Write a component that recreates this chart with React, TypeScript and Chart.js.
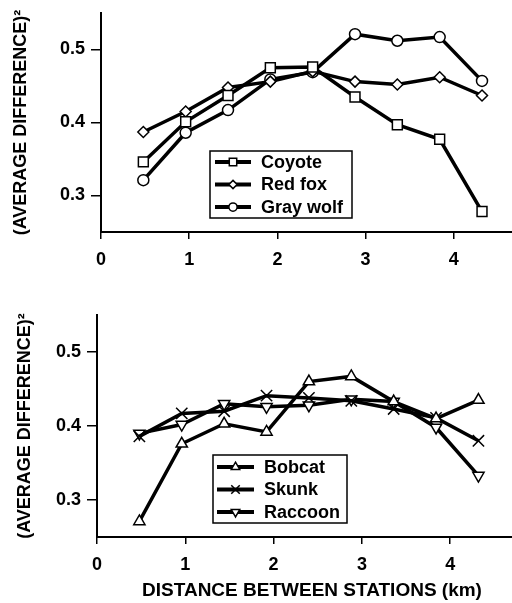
import React, { useEffect, useRef } from 'react';
import { Chart, registerables } from 'chart.js';

Chart.register(...registerables);

// ---- data ----
const distances = [0.48, 0.96, 1.44, 1.92, 2.4, 2.88, 3.36, 3.84, 4.32];
const coyote = [0.346, 0.401, 0.437, 0.475, 0.476, 0.435, 0.397, 0.377, 0.278];
const redFox = [0.387, 0.415, 0.448, 0.456, 0.47, 0.456, 0.452, 0.462, 0.437];
const grayWolf = [0.321, 0.386, 0.417, 0.459, 0.469, 0.521, 0.512, 0.517, 0.457];
const bobcat = [0.271, 0.376, 0.403, 0.392, 0.46, 0.467, 0.433, 0.41, 0.435];
const skunk = [0.386, 0.417, 0.42, 0.441, 0.438, 0.434, 0.423, 0.411, 0.38];
const raccoon = [0.39, 0.402, 0.43, 0.426, 0.428, 0.436, 0.433, 0.398, 0.333];
const xTicks = [0, 1, 2, 3, 4];
const yTicks = [0.3, 0.4, 0.5];
const yTitle = '(AVERAGE DIFFERENCE)²';
const xTitle = 'DISTANCE BETWEEN STATIONS (km)';

const FONT = '"Liberation Sans", Arial, sans-serif';

type Marker = { style: string; radius: number; rotation: number };

function drawMarker(ctx: CanvasRenderingContext2D, style: string, x: number, y: number, r: number, rot: number) {
  ctx.save();
  ctx.translate(x, y);
  ctx.rotate((rot * Math.PI) / 180);
  ctx.beginPath();
  let fill = true;
  switch (style) {
    case 'rect': {
      const s = r * Math.SQRT1_2;
      ctx.rect(-s, -s, 2 * s, 2 * s);
      break;
    }
    case 'rectRot':
      ctx.moveTo(0, -r);
      ctx.lineTo(r, 0);
      ctx.lineTo(0, r);
      ctx.lineTo(-r, 0);
      ctx.closePath();
      break;
    case 'circle':
      ctx.arc(0, 0, r, 0, Math.PI * 2);
      break;
    case 'triangle': {
      let a = 0;
      ctx.moveTo(Math.sin(a) * r, -Math.cos(a) * r);
      a += (2 * Math.PI) / 3;
      ctx.lineTo(Math.sin(a) * r, -Math.cos(a) * r);
      a += (2 * Math.PI) / 3;
      ctx.lineTo(Math.sin(a) * r, -Math.cos(a) * r);
      ctx.closePath();
      break;
    }
    case 'crossRot': {
      fill = false;
      const s = r * Math.SQRT1_2;
      ctx.moveTo(-s, -s);
      ctx.lineTo(s, s);
      ctx.moveTo(-s, s);
      ctx.lineTo(s, -s);
      break;
    }
  }
  if (fill) {
    ctx.fillStyle = '#fff';
    ctx.fill();
  }
  ctx.strokeStyle = '#000';
  ctx.lineWidth = 1.5;
  ctx.stroke();
  ctx.restore();
}

function makeLegendPlugin(
  markers: Marker[],
  box: { dx: number; dy: number; w: number; h: number; row0: number; rowGap: number; lineX0: number; lineX1: number; textX: number }
) {
  return {
    id: 'boxLegend',
    afterDatasetsDraw(chart: any) {
      const { ctx, chartArea } = chart;
      const x0 = chartArea.left + box.dx;
      const y0 = chartArea.top + box.dy;
      ctx.save();
      ctx.fillStyle = '#fff';
      ctx.fillRect(x0, y0, box.w, box.h);
      ctx.strokeStyle = '#000';
      ctx.lineWidth = 1.5;
      ctx.strokeRect(x0, y0, box.w, box.h);
      chart.data.datasets.forEach((ds: any, i: number) => {
        const cy = y0 + box.row0 + i * box.rowGap;
        ctx.strokeStyle = '#000';
        ctx.lineWidth = 4;
        ctx.beginPath();
        ctx.moveTo(x0 + box.lineX0, cy);
        ctx.lineTo(x0 + box.lineX1, cy);
        ctx.stroke();
        const m = markers[i];
        drawMarker(ctx, m.style, x0 + (box.lineX0 + box.lineX1) / 2, cy, m.radius * 0.75, m.rotation);
        ctx.fillStyle = '#000';
        ctx.font = `bold 18px ${FONT}`;
        ctx.textBaseline = 'middle';
        ctx.textAlign = 'left';
        ctx.fillText(ds.label, x0 + box.textX, cy + 1);
      });
      ctx.restore();
    },
  };
}

function dataset(label: string, values: number[], m: Marker) {
  return {
    label,
    data: distances.map((x, i) => ({ x, y: values[i] })),
    borderColor: '#000',
    borderWidth: 3.5,
    pointStyle: m.style,
    pointRadius: m.radius,
    pointRotation: m.rotation,
    pointBackgroundColor: '#fff',
    pointBorderColor: '#000',
    pointBorderWidth: 1.5,
    tension: 0,
    fill: false,
  };
}

function buildConfig(opts: {
  series: { label: string; values: number[]; marker: Marker }[];
  xMax: number;
  padTop: number;
  yWidth: number;
  xHeight: number;
  yTitlePad: number;
  showXTitle: boolean;
  legend: any;
}) {
  const tickFont = { family: FONT, size: 18, weight: 'bold' as const };
  return {
    type: 'line' as const,
    data: {
      datasets: opts.series.map((s) => dataset(s.label, s.values, s.marker)),
    },
    options: {
      responsive: false,
      animation: false as const,
      layout: { autoPadding: false, padding: { top: opts.padTop, left: 0, right: 0, bottom: 0 } },
      plugins: { legend: { display: false }, tooltip: { enabled: false } },
      scales: {
        x: {
          type: 'linear' as const,
          min: 0,
          max: opts.xMax,
          afterBuildTicks: (axis: any) => {
            axis.ticks = xTicks.map((v) => ({ value: v }));
          },
          afterFit: (s: any) => {
            s.height = opts.xHeight;
            s.paddingLeft = 0;
            s.paddingRight = 0;
            s.paddingTop = 0;
            s.paddingBottom = 0;
          },
          grid: { display: true, drawOnChartArea: false, drawTicks: true, tickLength: 7, color: '#000', lineWidth: 1.5 },
          border: { display: true, color: '#000', width: 2 },
          ticks: {
            color: '#000',
            font: tickFont,
            padding: 10,
            maxRotation: 0,
            autoSkip: false,
            callback: (v: any) => String(v),
          },
          title: {
            display: opts.showXTitle,
            text: xTitle,
            color: '#000',
            font: { family: FONT, size: 19, weight: 'bold' as const },
            padding: { top: 0, bottom: 1 },
          },
        },
        y: {
          type: 'linear' as const,
          min: 0.25,
          max: 0.55,
          afterBuildTicks: (axis: any) => {
            axis.ticks = yTicks.map((v) => ({ value: v }));
          },
          afterFit: (s: any) => {
            s.width = opts.yWidth;
            s.paddingLeft = 0;
            s.paddingRight = 0;
            s.paddingTop = 0;
            s.paddingBottom = 0;
          },
          grid: { display: true, drawOnChartArea: false, drawTicks: true, tickLength: 10, color: '#000', lineWidth: 1.5 },
          border: { display: true, color: '#000', width: 2 },
          ticks: {
            color: '#000',
            font: tickFont,
            padding: 6,
            callback: (v: any) => Number(v).toFixed(1),
          },
          title: {
            display: true,
            text: yTitle,
            color: '#000',
            font: { family: FONT, size: 18, weight: 'bold' as const },
            padding: { top: opts.yTitlePad, bottom: 0 },
          },
        },
      },
    },
    plugins: [opts.legend],
  };
}

const squareM: Marker = { style: 'rect', radius: 7, rotation: 0 };
const diamondM: Marker = { style: 'rectRot', radius: 5.5, rotation: 0 };
const circleM: Marker = { style: 'circle', radius: 5.5, rotation: 0 };
const triUpM: Marker = { style: 'triangle', radius: 6.5, rotation: 0 };
const crossM: Marker = { style: 'crossRot', radius: 8, rotation: 0 };
const triDownM: Marker = { style: 'triangle', radius: 6.5, rotation: 180 };

export default function App() {
  const topRef = useRef<HTMLCanvasElement | null>(null);
  const botRef = useRef<HTMLCanvasElement | null>(null);

  useEffect(() => {
    const topMarkers = [squareM, diamondM, circleM];
    const botMarkers = [triUpM, crossM, triDownM];
    const top = new Chart(
      topRef.current as HTMLCanvasElement,
      buildConfig({
        series: [
          { label: 'Coyote', values: coyote, marker: squareM },
          { label: 'Red fox', values: redFox, marker: diamondM },
          { label: 'Gray wolf', values: grayWolf, marker: circleM },
        ],
        xMax: 4.66,
        padTop: 13,
        yWidth: 101,
        xHeight: 58,
        yTitlePad: 10,
        showXTitle: false,
        legend: makeLegendPlugin(topMarkers, {
          dx: 109, dy: 138, w: 142, h: 67, row0: 11, rowGap: 22.5, lineX0: 5, lineX1: 41, textX: 51,
        }),
      }) as any
    );
    // bottom panel: x axis runs on past the right edge of the page (clipped), as in the original figure
    const bot = new Chart(
      botRef.current as HTMLCanvasElement,
      buildConfig({
        series: [
          { label: 'Bobcat', values: bobcat, marker: triUpM },
          { label: 'Skunk', values: skunk, marker: crossM },
          { label: 'Raccoon', values: raccoon, marker: triDownM },
        ],
        xMax: 4.87,
        padTop: 25,
        yWidth: 97,
        xHeight: 66,
        yTitlePad: 14,
        showXTitle: true,
        legend: makeLegendPlugin(botMarkers, {
          dx: 116, dy: 140, w: 134, h: 68, row0: 12, rowGap: 22.5, lineX0: 4, lineX1: 41, textX: 51,
        }),
      }) as any
    );
    return () => {
      top.destroy();
      bot.destroy();
    };
  }, []);

  return (
    <div style={{ position: 'absolute', left: 0, top: 0, width: 512, height: 603, background: '#fff', overflow: 'hidden' }}>
      <canvas ref={topRef} width={512} height={290} style={{ position: 'absolute', left: 0, top: 0, display: 'block' }} />
      <canvas ref={botRef} width={527} height={313} style={{ position: 'absolute', left: 0, top: 290, display: 'block' }} />
    </div>
  );
}
